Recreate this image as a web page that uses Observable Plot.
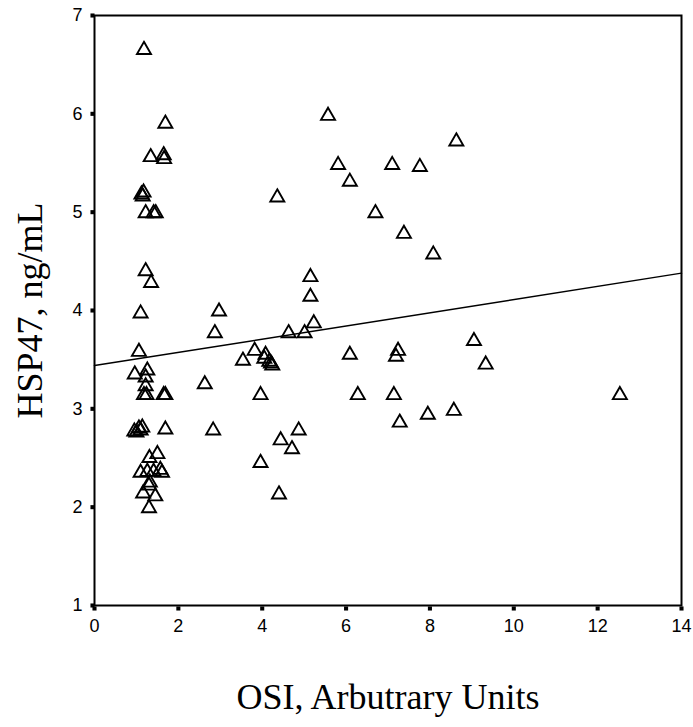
<!DOCTYPE html>
<html>
<head>
<meta charset="utf-8">
<script src="https://cdn.jsdelivr.net/npm/d3@7"></script>
<script src="https://cdn.jsdelivr.net/npm/@observablehq/plot@0.6"></script>
<style>
  html, body { margin: 0; padding: 0; background: #fff; }
</style>
</head>
<body>
<div id="chart"></div>
<script>
const osi = [
  1.18, 1.69, 1.34, 1.65, 1.66, 1.12, 1.15, 1.17, 1.22, 1.41, 1.46, 1.22, 1.35, 1.10,
  1.06, 0.96, 1.26, 1.22, 1.22, 1.18, 1.24, 1.65, 1.69, 0.95, 1.00, 1.06, 1.10, 1.14,
  1.69, 1.31, 1.50, 1.10, 1.26, 1.41, 1.57, 1.61, 1.32, 1.30, 1.16, 1.45, 1.30,
  2.63, 2.83, 2.87, 2.97, 3.54, 3.82, 3.96, 3.96, 4.08, 4.05, 4.17, 4.21, 4.24, 4.36,
  4.40, 4.44, 4.63, 4.71, 4.87, 5.01, 5.15, 5.15, 5.23, 5.57, 5.81, 6.09, 6.09, 6.28,
  6.70, 7.10, 7.14, 7.19, 7.24, 7.28, 7.38, 7.76, 7.95, 8.08, 8.57, 8.63, 9.05, 9.33,
  12.53
];
const hsp47 = [
  6.66, 5.91, 5.57, 5.59, 5.55, 5.19, 5.17, 5.21, 5.00, 5.00, 5.00, 4.41, 4.29, 3.98,
  3.59, 3.36, 3.40, 3.33, 3.24, 3.15, 3.15, 3.15, 3.15, 2.78, 2.77, 2.81, 2.79, 2.82,
  2.80, 2.51, 2.55, 2.36, 2.37, 2.37, 2.39, 2.36, 2.26, 2.23, 2.15, 2.12, 2.00,
  3.26, 2.79, 3.78, 4.00, 3.50, 3.60, 3.15, 2.46, 3.56, 3.52, 3.49, 3.47, 3.45, 5.16,
  2.14, 2.69, 3.78, 2.60, 2.79, 3.78, 4.35, 4.15, 3.88, 5.99, 5.49, 5.32, 3.56, 3.15,
  5.00, 5.49, 3.15, 3.54, 3.60, 2.87, 4.79, 5.47, 2.95, 4.58, 2.99, 5.73, 3.70, 3.46,
  3.15
];
const fitX = [0, 14];
const fitY = [3.44, 4.38];
const xTicks = [0, 2, 4, 6, 8, 10, 12, 14];
const yTicks = [1, 2, 3, 4, 5, 6, 7];
const xTitle = "OSI, Arbutrary Units";
const yTitle = "HSP47, ng/mL";

const points = osi.map((x, i) => ({x, y: hsp47[i]}));
const fit = fitX.map((x, i) => ({x, y: fitY[i]}));
const serif = "Liberation Serif, Times New Roman, serif";

const chart = Plot.plot({
  width: 693,
  height: 727,
  marginTop: 15,
  marginBottom: 122,
  marginLeft: 94,
  marginRight: 12,
  style: {fontFamily: "Liberation Sans, Arial, sans-serif", fontSize: "18px", color: "#000", background: "#fff"},
  x: {domain: [0, 14]},
  y: {domain: [1, 7]},
  marks: [
    Plot.axisX(xTicks, {tickSize: 0, tickPadding: 14, tickFormat: "d", label: null, fontSize: 18}),
    Plot.axisY(yTicks, {tickSize: 0, tickPadding: 12, tickFormat: "d", label: null, fontSize: 18}),
    Plot.dot(xTicks, {x: d => d, y: () => 1, dy: 3, symbol: "square", r: 2.3, fill: "#000", stroke: "none"}),
    Plot.dot(yTicks, {x: () => 0, y: d => d, dx: -2, symbol: "square", r: 2.3, fill: "#000", stroke: "none"}),
    Plot.frame({stroke: "#000", strokeWidth: 2}),
    Plot.line(fit, {x: "x", y: "y", stroke: "#000", strokeWidth: 1.5}),
    Plot.dot(points, {x: "x", y: "y", symbol: "triangle", r: 5.2, stroke: "#000", strokeWidth: 1.9, fill: "none", dy: 1}),
    Plot.text([xTitle], {frameAnchor: "bottom", dy: 92, text: d => d, fontFamily: serif, fontSize: 36, textAnchor: "middle", lineAnchor: "middle", fill: "#000"}),
    Plot.text([yTitle], {frameAnchor: "left", dx: -64, rotate: -90, text: d => d, fontFamily: serif, fontSize: 36, textAnchor: "middle", lineAnchor: "middle", fill: "#000"})
  ]
});
document.getElementById("chart").appendChild(chart);
</script>
</body>
</html>
